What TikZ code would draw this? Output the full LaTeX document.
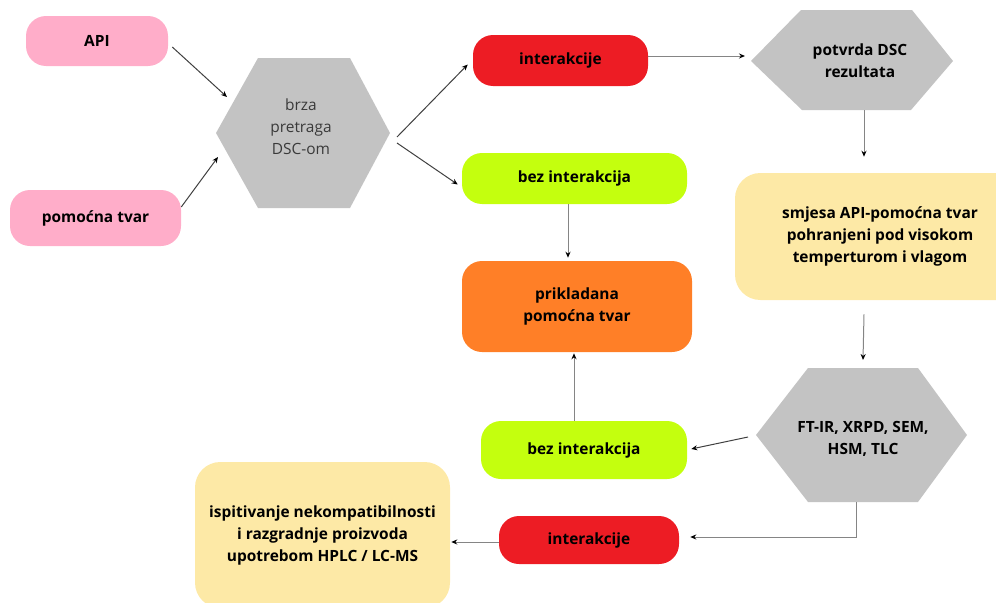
\documentclass[tikz,border=0pt]{standalone}
\usepackage{fontspec}
\setmainfont{Open Sans}
\usepackage{xcolor}
\usetikzlibrary{arrows.meta,calc}
\definecolor{pinkbox}{HTML}{FFADC9}
\definecolor{redbox}{HTML}{ED1C24}
\definecolor{limebox}{HTML}{C4FF0E}
\definecolor{orangebox}{HTML}{FF7F27}
\definecolor{yellowbox}{HTML}{FDE9A6}
\definecolor{hexgray}{HTML}{C3C3C3}
\definecolor{linegray}{HTML}{858585}
\definecolor{linedark}{HTML}{404040}
\definecolor{softtext}{HTML}{3A3A3A}
\newcommand{\px}{0.75pt}
\tikzset{
  lab/.style={text=black, font=\bfseries\fontsize{11.6}{16.5}\selectfont, align=center},
  box/.style={lab, fill=#1, rounded corners=15pt, inner sep=0pt},
  hexfill/.style={fill=hexgray},
  arr/.style={draw=linegray, line width=0.75pt, -{Stealth[length=4.5pt,width=3.8pt,black]}},
  arrdark/.style={arr, draw=linedark},
}

\begin{document}
\begin{tikzpicture}[x=0.75pt, y=-0.75pt]
  \useasboundingbox (0,0) rectangle (996,603);

  % hexagon corners
  \coordinate (h1l) at (216,133);
  \coordinate (h1r) at (390,133);
  \coordinate (h2l) at (751,61);
  \coordinate (h2b) at (864,110);
  \coordinate (h3l) at (756,435);
  \coordinate (h3t) at (863,368);
  \coordinate (h3b) at (863,502);

  \fill[hexfill] (h1l) -- (258,58) -- (350,58) -- (h1r) -- (350,208) -- (258,208) -- cycle;
  \fill[hexfill] (h2l) -- (801,10) -- (912,10) -- (953,61) -- (911,110) -- (802,110) -- cycle;
  \fill[hexfill] (h3l) -- (808,368) -- (918,368) -- (967,435) -- (918,502) -- (808,502) -- cycle;

  \node[align=center, text=softtext, font=\fontsize{11.6}{16.5}\selectfont] (pretraga) at (301,127) {brza\\pretraga\\DSC-om};
  \node[lab] (potvrda) at (860,61) {potvrda DSC\\rezultata};
  \node[lab] (metode) at (863,439) {FT-IR, XRPD, SEM,\\HSM, TLC};

  % boxes
  \node[box=pinkbox, minimum width=142*\px, minimum height=50*\px] (api) at (97,41) {API};
  \node[box=pinkbox, minimum width=171*\px, minimum height=56*\px] (tvar) at (95.5,218) {pomoćna tvar};
  \node[box=redbox, minimum width=175*\px, minimum height=51*\px] (int1) at (560.5,60.5) {interakcije};
  \node[box=limebox, minimum width=225*\px, minimum height=51*\px] (bez1) at (574.5,178.5) {bez interakcija};
  \node[box=orangebox, minimum width=230*\px, minimum height=91*\px] (prik) at (577,306.5) {prikladana\\pomoćna tvar};
  \node[box=yellowbox, minimum width=290*\px, minimum height=127*\px, rounded corners=19pt] (smjesa) at (880,236.5)
    {smjesa API-pomoćna tvar\\pohranjeni pod visokom\\temperturom i vlagom};
  \node[box=limebox, minimum width=206*\px, minimum height=58*\px] (bez2) at (584,450) {bez interakcija};
  \node[box=redbox, minimum width=180*\px, minimum height=48*\px] (int2) at (589,540) {interakcije};
  \node[box=yellowbox, minimum width=255*\px, minimum height=146*\px, rounded corners=19pt] (ispit) at (322.5,535)
    {ispitivanje nekompatibilnosti\\i razgradnje proizvoda\\upotrebom HPLC / LC-MS};

  % connectors
  \draw[arrdark] ([shift={(4,6)}]api.east) -- ([shift={(11,-36)}]h1l);
  \draw[arrdark] ([shift={(0,-11)}]tvar.east) -- ([shift={(2,24)}]h1l);
  \draw[arrdark] ([shift={(7,4)}]h1r) -- ([shift={(-5,4)}]int1.west);
  \draw[arrdark] ([shift={(7,10)}]h1r) -- ([shift={(-4,6)}]bez1.west);
  \draw[arr] ([shift={(0,-4.5)}]int1.east) -- ([shift={(-6,-5)}]h2l);
  \draw[arr] (h2b) -- ([shift={(-16,-16)}]smjesa.north);
  \draw[arr] ([shift={(-6.5,0)}]bez1.south) -- ([shift={(-9,-3)}]prik.north);
  \draw[arr] ([shift={(-16,14)}]smjesa.south) -- ([shift={(0,-8)}]h3t);
  \draw[arrdark] ([shift={(-8,2)}]h3l) -- ([shift={(4,-1)}]bez2.east);
  \draw[arr] ([shift={(-10,0)}]bez2.north) -- ([shift={(-3,1)}]prik.south);
  \draw[arr] ([shift={(-7,0)}]h3b) |- ([shift={(11,-3)}]int2.east);
  \draw[arr] ([shift={(0,2)}]int2.west) -- ([shift={(1,7)}]ispit.east);
\end{tikzpicture}
\end{document}
